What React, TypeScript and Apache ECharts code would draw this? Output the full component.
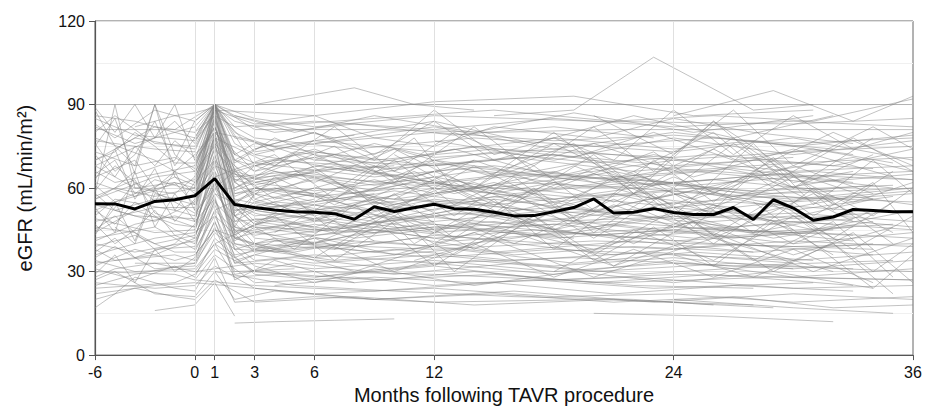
import React, { useEffect, useRef } from "react";
import * as echarts from "echarts";

// Axis positions: the pre-TAVR window is drawn compressed, position -5 is labelled "-6".
const tickPositions = [-5, 0, 1, 3, 6, 12, 24, 36];
const tickLabels = ["-6", "0", "1", "3", "6", "12", "24", "36"];
const gridPositions = [0, 1, 3, 6, 12, 24];

// Mean eGFR (thick black line)
const meanX = [-5, -4, -3, -2, -1, 0, 1, 2, 3, 4, 5, 6, 7, 8, 9, 10, 11, 12, 13, 14, 15, 16, 17, 18, 19, 20, 21, 22, 23, 24, 25, 26, 27, 28, 29, 30, 31, 32, 33, 34, 35, 36];
const meanY = [54.4, 54.3, 52.5, 55.2, 55.8, 57.2, 63.4, 54.1, 53.0, 52.1, 51.5, 51.3, 50.8, 48.8, 53.3, 51.6, 52.9, 54.2, 52.6, 52.4, 51.3, 50.0, 50.1, 51.5, 53.0, 56.1, 51.0, 51.3, 52.6, 51.2, 50.5, 50.5, 53.0, 48.7, 55.8, 52.8, 48.4, 49.6, 52.3, 51.9, 51.5, 51.5];

// Individual patient trajectories, flat [x, y, x, y, ...]
const patients: number[][] = [
  [-5, 90, -2, 90, 1, 90, 6, 90, 12, 90, 18, 90, 24, 90, 30, 90, 36, 90],
  [-5, 81, -1, 81, 1, 90, 3, 81, 9, 81, 15, 80, 21, 81, 27, 81, 36, 81],
  [-5, 88, -4, 75, -3, 68, -2, 90, -1, 72, 0, 66, 1, 90, 2, 70, 3, 74, 6, 80, 9, 72, 12, 84, 15, 70, 18, 76, 24, 73, 30, 78, 36, 70],
  [-5, 70, -3, 78, 0, 74, 1, 88, 3, 83, 6, 86, 9, 78, 12, 75, 15, 82, 20, 78, 24, 85, 28, 80, 33, 76],
  [-5, 66, -4, 62, -2, 65, 0, 68, 1, 82, 2, 65, 4, 62, 6, 68, 10, 64, 12, 70, 16, 66, 20, 62, 24, 67, 30, 64, 36, 66],
  [-5, 62, -3, 57, -1, 64, 0, 61, 1, 76, 3, 60, 6, 58, 9, 63, 12, 58, 16, 62, 22, 60, 27, 57, 34, 61],
  [-5, 58, -4, 52, -2, 48, 0, 55, 1, 70, 2, 52, 5, 54, 8, 50, 12, 56, 18, 51, 24, 53, 30, 49, 36, 52],
  [-5, 54, -3, 50, 0, 49, 1, 62, 3, 48, 6, 45, 12, 50, 15, 46, 21, 48, 28, 44, 35, 47],
  [-5, 50, -4, 56, -1, 52, 0, 50, 1, 64, 2, 42, 4, 46, 7, 49, 12, 44, 18, 47, 25, 42, 32, 45],
  [-5, 46, -3, 44, -2, 40, 0, 43, 1, 58, 3, 42, 6, 40, 9, 45, 13, 41, 19, 44, 26, 40, 34, 38],
  [-5, 42, -2, 46, 0, 38, 1, 50, 3, 37, 6, 39, 12, 35, 18, 38, 24, 36, 30, 34, 36, 37],
  [-5, 38, -4, 34, -1, 36, 0, 34, 1, 48, 2, 33, 5, 35, 10, 31, 14, 34, 20, 30, 27, 33, 33, 31],
  [-5, 34, -3, 30, 0, 31, 1, 40, 3, 30, 6, 28, 12, 32, 18, 27, 24, 29, 36, 27],
  [-5, 30, -1, 29, 0, 27, 1, 36, 3, 26, 8, 28, 12, 25, 17, 27, 23, 24, 31, 26],
  [-5, 26, -2, 24, 0, 25, 1, 32, 3, 24, 6, 22, 12, 24, 18, 21, 24, 22, 30, 19, 36, 21],
  [-5, 17, -4, 22, -3, 28, -1, 24, 0, 23, 1, 35, 2, 19, 6, 21, 12, 19, 20, 20, 28, 18],
  [-2, 16, -1, 17, 0, 18, 1, 26, 2, 14],
  [2, 11.5, 4, 12, 7, 12.5, 10, 13],
  [-5, 85, -3, 79, 0, 77, 1, 90, 3, 68, 7, 72, 11, 64, 14, 70],
  [-4, 74, -2, 82, 0, 80, 1, 86, 2, 60, 4, 66, 8, 61],
  [-5, 72, -4, 64, -3, 75, -2, 68, -1, 77, 0, 71, 1, 82, 2, 62, 3, 68, 6, 74, 9, 66, 12, 70, 15, 73, 20, 69, 26, 72, 32, 68, 36, 74],
  [-5, 78, -2, 70, 0, 62, 1, 80, 3, 66, 5, 73, 9, 69, 14, 75, 19, 71, 23, 80, 27, 70, 31, 74, 35, 69],
  [-5, 68, -3, 60, -1, 58, 0, 64, 1, 90, 2, 58, 4, 60, 7, 57, 11, 62, 17, 59, 22, 63, 29, 58, 36, 60],
  [-5, 56, -4, 60, -2, 57, 0, 60, 1, 78, 2, 56, 4, 53, 8, 57, 12, 55, 17, 58, 23, 54, 29, 57, 36, 55],
  [-5, 48, -2, 53, 0, 53, 1, 72, 2, 48, 5, 50, 9, 46, 13, 51, 18, 48, 25, 50, 32, 47],
  [-5, 44, -4, 48, -3, 52, -1, 47, 0, 46, 1, 66, 2, 45, 4, 43, 8, 46, 12, 42, 17, 45, 24, 41, 31, 44, 36, 42],
  [-5, 40, -3, 37, 0, 41, 1, 55, 3, 40, 7, 38, 11, 42, 16, 36, 22, 39, 28, 37],
  [-5, 36, -2, 42, 0, 44, 1, 50, 2, 36, 5, 40, 12, 38, 20, 41, 30, 39, 36, 40],
  [-5, 32, -3, 38, -1, 34, 0, 36, 1, 45, 3, 34, 6, 36, 12, 33, 19, 35, 27, 32, 35, 34],
  [-5, 28, -4, 31, -2, 33, 0, 30, 1, 40, 2, 28, 6, 30, 12, 29, 21, 26, 29, 28, 36, 27],
  [-5, 24, -1, 26, 0, 29, 1, 38, 3, 30, 9, 27, 15, 29, 22, 25, 28, 24],
  [-4, 60, -3, 66, -2, 90, -1, 64, 0, 58, 1, 74, 3, 57],
  [-5, 52, -3, 58, 0, 63, 1, 84, 2, 50, 3, 55, 6, 52, 12, 60, 18, 56, 24, 62, 30, 55, 36, 58],
  [0, 55, 1, 90, 2, 62, 3, 58, 6, 63, 9, 59, 12, 64, 15, 60, 20, 65, 25, 61, 30, 64, 35, 60],
  [0, 48, 1, 76, 2, 48, 3, 52, 6, 49, 9, 55, 12, 50, 18, 53, 24, 49, 30, 51, 36, 48],
  [0, 45, 1, 60, 3, 47, 6, 44, 9, 50, 12, 47, 18, 43, 24, 46, 30, 44],
  [0, 40, 1, 54, 2, 38, 4, 42, 8, 39, 12, 43, 18, 40, 24, 38, 30, 41, 36, 39],
  [0, 65, 1, 84, 2, 70, 3, 66, 6, 71, 9, 65, 12, 69, 18, 64, 24, 70, 30, 66, 36, 68],
  [0, 70, 1, 90, 2, 76, 3, 72, 6, 77, 12, 73, 18, 78, 24, 74, 28, 77, 33, 72],
  [0, 58, 1, 68, 3, 62, 5, 65, 9, 61, 14, 66, 20, 60, 26, 63, 32, 59],
  [0, 36, 1, 45, 3, 40, 6, 35, 10, 38, 16, 34, 23, 37, 30, 33],
  [0, 52, 1, 86, 2, 44, 3, 49, 7, 45, 11, 50, 16, 47, 21, 51, 27, 46, 33, 49],
  [0, 62, 1, 70, 3, 55, 6, 60, 10, 56, 15, 61, 20, 57, 25, 60, 31, 56, 36, 59],
  [3, 74, 6, 80, 9, 70, 12, 88, 15, 72, 18, 78, 21, 70, 24, 88, 27, 72, 30, 86, 33, 74, 36, 80],
  [3, 64, 7, 75, 10, 62, 14, 82, 17, 66, 20, 70, 24, 60, 27, 76, 30, 62, 33, 66],
  [6, 55, 9, 68, 13, 50, 16, 64, 19, 48, 22, 62, 25, 46, 28, 65, 31, 50, 34, 62, 36, 44],
  [4, 44, 8, 60, 11, 40, 15, 56, 18, 38, 22, 58, 26, 40, 29, 54, 33, 38, 36, 50],
  [6, 35, 10, 52, 13, 30, 17, 50, 21, 32, 25, 48, 29, 30, 33, 44, 36, 26],
  [2, 50, 5, 38, 8, 54, 12, 32, 16, 50, 20, 36, 24, 52, 28, 34, 32, 48, 35, 28],
  [3, 82, 9, 85, 15, 88, 21, 84, 26, 86, 31, 84, 36, 92],
  [1, 88, 6, 86, 12, 91, 19, 93, 25, 86, 31, 88],
  [6, 70, 12, 68, 18, 72, 24, 66, 30, 69, 36, 71],
  [3, 46, 9, 44, 15, 48, 21, 42, 27, 45, 33, 43],
  [0, 30, 3, 33, 6, 31, 12, 34, 18, 30, 24, 33, 30, 31, 36, 34],
  [0, 27, 3, 25, 9, 23, 15, 26, 21, 22, 27, 25, 33, 23],
  [-5, 22, -2, 25, 0, 26, 3, 24, 9, 20, 15, 22, 21, 19, 27, 21, 32, 17, 36, 18],
  [1, 30, 5, 25, 10, 23, 16, 21, 22, 20, 26, 18],
  [10, 56, 14, 70, 18, 60, 23, 73, 26, 58, 29, 70, 32, 54],
  [12, 40, 16, 58, 20, 42, 24, 60, 28, 44, 31, 60, 35, 40],
  [8, 62, 11, 78, 13, 60, 19, 76, 22, 58, 27, 78, 30, 64],
  [15, 50, 20, 72, 24, 50, 28, 76, 31, 54, 34, 70, 36, 58],
  [18, 30, 22, 45, 26, 34, 30, 50, 34, 30, 36, 40],
  [2, 42, 8, 30, 14, 44, 20, 28, 26, 42, 32, 30],
  [-5, 64, -3, 70, -2, 60, 0, 72, 1, 80, 3, 77, 6, 70, 9, 76, 12, 71, 18, 74, 24, 70, 30, 73, 36, 75],
  [-5, 44, -3, 62, -1, 55, 0, 51, 1, 60, 2, 66, 4, 56, 7, 62, 10, 54],
  [-5, 75, -4, 85, -3, 65, -1, 70, 0, 84, 1, 90, 2, 80, 4, 73],
  [-5, 47, -4, 40, -3, 45, -2, 52, -1, 43, 0, 40, 1, 60, 2, 46, 3, 43, 6, 47, 9, 44, 12, 48],
  [-5, 59, -4, 68, -3, 62, -2, 55, -1, 66, 0, 52, 1, 78, 2, 57, 3, 60, 6, 55, 9, 58],
  [-3, 82, -1, 86, 0, 87, 1, 89, 2, 84, 4, 80, 8, 83, 13, 79, 18, 82, 23, 78],
  [-5, 80, -4, 86, -2, 76, 0, 75, 1, 88, 3, 73, 6, 76, 12, 80, 18, 77, 24, 79, 30, 76, 36, 78],
  [-5, 37, -4, 42, -3, 35, -1, 40, 0, 47, 1, 65, 2, 38, 5, 37, 8, 41],
  [2, 60, 5, 72, 8, 58, 12, 66, 16, 55, 20, 67, 25, 56, 30, 68, 34, 58],
  [5, 58, 10, 54, 15, 62, 20, 52, 25, 59, 30, 52, 35, 57],
  [2, 52, 6, 58, 10, 48, 15, 55, 20, 46, 26, 53, 31, 45, 36, 52],
  [8, 46, 13, 52, 19, 44, 24, 50, 29, 42, 34, 48],
  [20, 86, 24, 72, 27, 88, 30, 68, 34, 82, 36, 74],
  [22, 66, 26, 80, 29, 62, 33, 78, 36, 66],
  [24, 36, 28, 28, 32, 40, 35, 22],
  [28, 55, 31, 40, 34, 24, 36, 36],
  [-5, 56, -2, 64, 0, 66, 1, 75, 2, 63, 3, 61, 7, 68, 12, 62, 17, 66, 23, 61, 29, 65, 36, 63],
  [-4, 52, -2, 56, 0, 57, 1, 66, 2, 54, 3, 50, 6, 52, 11, 56, 17, 52],
  [-5, 41, -3, 47, -1, 50, 0, 48, 1, 56, 2, 40, 4, 38, 8, 43, 12, 46, 19, 42],
  [-3, 33, 0, 33, 1, 48, 2, 30, 5, 31],
  [4, 25, 9, 28, 14, 26, 22, 28, 30, 24, 36, 25],
  [0, 77, 1, 86, 3, 78, 8, 74, 14, 78, 20, 75, 26, 78, 32, 74],
  [-5, 70, -4, 73, -3, 80, -2, 75, -1, 69, 0, 69, 1, 82, 2, 64, 5, 66, 10, 68],
  [15, 86, 19, 88, 23, 107, 28, 88, 31, 90],
  [3, 90, 8, 96, 11, 90, 14, 88],
  [24, 86, 29, 95, 33, 84, 36, 93],
  [20, 15, 26, 14, 29, 13, 32, 12],
  [24, 20, 30, 17, 35, 15],
  [-5, 86, -3, 84, -1, 80, 0, 78, 1, 90, 2, 72, 3, 76, 9, 70, 15, 74, 24, 71],
  [-5, 83, -4, 78, -2, 88, 0, 84, 1, 90, 3, 85, 6, 82, 12, 86, 20, 84, 30, 83, 36, 85],
  [-5, 77, -2, 74, 0, 73, 1, 90, 2, 66, 4, 70, 10, 67, 16, 71, 22, 66, 28, 70, 34, 67],
  [-5, 73, -3, 68, -1, 71, 0, 67, 1, 85, 2, 63, 5, 65, 11, 61, 17, 65, 24, 62, 31, 66, 36, 63],
  [-5, 65, -4, 70, -3, 58, -2, 63, 0, 59, 1, 82, 2, 59, 3, 62, 6, 59, 11, 63, 16, 58, 22, 62, 28, 59, 35, 61],
  [-5, 61, -4, 55, -2, 59, -1, 62, 0, 54, 1, 74, 2, 50, 4, 55, 9, 52, 15, 56, 21, 51, 27, 55, 33, 52],
  [-5, 57, -3, 63, -2, 51, 0, 46, 1, 68, 2, 53, 3, 47, 7, 52, 12, 48, 18, 52, 24, 47, 30, 50, 36, 46],
  [-5, 52, -4, 47, -3, 55, -1, 45, 0, 42, 1, 62, 2, 44, 4, 49, 8, 42, 14, 47, 20, 43, 26, 46, 33, 41],
  [-5, 49, -2, 44, 0, 45, 1, 70, 2, 41, 3, 46, 6, 43, 12, 47, 18, 42, 24, 45, 30, 40, 36, 44],
  [-5, 45, -4, 50, -2, 38, 0, 39, 1, 57, 2, 35, 4, 41, 9, 37, 15, 41, 21, 36, 27, 40, 34, 36],
  [-5, 39, -3, 43, -1, 37, 0, 37, 1, 52, 3, 38, 7, 34, 13, 38, 19, 33, 25, 37, 31, 34],
  [-5, 35, -4, 39, -2, 31, 0, 32, 1, 46, 2, 29, 5, 33, 10, 29, 16, 33, 22, 29, 29, 32, 36, 30],
  [-5, 31, -3, 27, -1, 32, 0, 28, 1, 42, 3, 29, 8, 26, 14, 30, 20, 26, 26, 29, 33, 25],
  [-5, 27, -4, 30, -2, 22, 0, 21, 1, 30, 2, 20, 4, 23, 9, 20, 16, 23, 23, 19, 30, 22, 36, 20],
  [-5, 20, -3, 24, -1, 21, 0, 20, 1, 27, 3, 19, 8, 21, 14, 18, 21, 20, 29, 17],
  [-5, 89, -4, 80, -3, 90, -2, 78, -1, 84, 0, 76, 1, 90, 2, 78, 4, 75, 8, 79],
  [-5, 68, -2, 78, -1, 90, 0, 70, 1, 80, 2, 72],
  [-5, 58, -4, 90, -3, 60, -1, 62, 0, 60, 1, 86, 2, 66, 3, 64],
  [-4, 46, -3, 40, -2, 58, 0, 54, 1, 88, 2, 55, 3, 52, 6, 56],
  [-5, 33, -2, 36, 0, 42, 1, 64, 2, 40, 3, 38, 6, 42, 12, 39],
  [0, 60, 1, 90, 2, 68, 3, 63, 5, 66, 9, 62, 13, 67, 19, 63, 25, 66, 31, 62, 36, 65],
  [0, 50, 1, 80, 2, 55, 3, 58, 6, 54, 10, 59, 15, 54, 21, 58, 27, 53, 32, 57],
  [0, 44, 1, 72, 2, 50, 3, 45, 7, 50, 12, 45, 18, 49, 24, 44, 30, 48, 36, 45],
  [0, 38, 1, 62, 2, 42, 4, 37, 9, 41, 15, 37, 22, 41, 28, 37, 34, 40],
  [0, 57, 1, 90, 2, 54, 3, 60, 6, 57, 12, 61, 18, 55, 24, 59, 30, 56, 36, 60],
  [0, 68, 1, 88, 2, 72, 3, 69, 6, 73, 12, 68, 18, 72, 24, 68, 30, 71],
  [0, 34, 1, 56, 2, 33, 3, 36, 6, 33, 12, 36, 18, 32, 24, 35, 30, 31],
  [0, 80, 1, 90, 2, 82, 6, 84, 12, 81, 18, 85, 24, 82, 30, 84, 36, 82],
  [3, 56, 6, 50, 9, 56, 12, 52, 15, 57, 18, 53, 21, 58, 24, 53, 27, 57, 30, 53, 33, 57, 36, 54],
  [3, 48, 6, 54, 9, 49, 12, 55, 15, 50, 18, 55, 21, 50, 24, 55, 27, 49, 30, 54],
  [3, 40, 9, 46, 15, 41, 21, 47, 27, 42, 33, 46],
  [3, 69, 9, 64, 15, 68, 21, 63, 27, 67, 33, 62],
  [6, 76, 12, 82, 18, 74, 24, 80, 30, 75, 36, 79],
  [6, 28, 12, 33, 18, 29, 24, 34, 30, 28, 36, 31],
  [9, 66, 15, 58, 21, 66, 27, 57, 33, 64],
  [12, 77, 18, 70, 24, 78, 30, 72, 36, 77],
  [4, 60, 9, 52, 14, 62, 19, 50, 24, 58, 29, 48, 34, 56],
  [7, 38, 11, 54, 16, 40, 21, 56, 26, 42, 31, 58, 35, 44],
  [10, 72, 14, 56, 19, 68, 24, 54, 29, 68, 34, 56],
  [2, 86, 7, 78, 12, 84, 17, 76, 22, 86, 27, 78, 32, 86],
  [-5, 63, -4, 74, -3, 56, -2, 67, -1, 52, 0, 62, 1, 88, 2, 51, 4, 64, 7, 54, 11, 66, 15, 52],
  [-5, 53, -4, 44, -3, 66, -2, 46, -1, 58, 0, 48, 1, 80, 2, 46, 3, 58, 6, 48, 10, 60],
  [-5, 43, -4, 55, -3, 41, -2, 60, -1, 48, 0, 56, 1, 77, 2, 43, 5, 55, 9, 41],
  [-5, 76, -4, 66, -3, 72, -2, 84, -1, 68, 0, 78, 1, 90, 2, 69, 4, 78, 8, 66],
  [-5, 29, -4, 36, -3, 26, -2, 38, -1, 30, 0, 35, 1, 52, 2, 27, 4, 34, 8, 26],
  [1, 64, 4, 72, 7, 56, 10, 70, 13, 54, 17, 68, 20, 52, 23, 70, 26, 55, 29, 71, 32, 52, 35, 66],
  [1, 52, 4, 62, 7, 44, 10, 58, 13, 42, 17, 60, 20, 44, 23, 58, 26, 43, 29, 56, 32, 42, 35, 55],
  [1, 40, 4, 50, 7, 34, 10, 48, 13, 36, 17, 50, 20, 34, 23, 46, 26, 32, 29, 48, 32, 36],
  [1, 78, 4, 68, 7, 82, 10, 66, 13, 80, 17, 68, 20, 82, 23, 66, 26, 84, 29, 70, 32, 80, 36, 68],
  [2, 70, 6, 62, 10, 74, 14, 60, 18, 76, 22, 62, 26, 74, 30, 60, 34, 72],
  [2, 58, 6, 66, 10, 52, 14, 68, 18, 54, 22, 66, 26, 50, 30, 64, 34, 50, 36, 60],
  [2, 46, 6, 40, 10, 52, 14, 38, 18, 52, 22, 40, 26, 54, 30, 40, 34, 52],
  [2, 34, 6, 42, 10, 30, 14, 40, 18, 28, 22, 38, 26, 28, 30, 38, 34, 26],
  [3, 62, 8, 68, 13, 58, 18, 66, 23, 56, 28, 64, 33, 55, 36, 62],
  [3, 52, 8, 46, 13, 54, 18, 45, 23, 53, 28, 44, 33, 51],
  [3, 72, 8, 66, 13, 74, 18, 64, 23, 72, 28, 65, 33, 71, 36, 66],
  [0, 43, 1, 58, 3, 51, 6, 46, 9, 53, 12, 44, 15, 52, 18, 45, 21, 54, 24, 46, 27, 52, 30, 45],
  [0, 64, 1, 78, 3, 56, 6, 64, 9, 55, 12, 63, 15, 54, 18, 62, 21, 55, 24, 64, 27, 56],
  [-5, 82, -3, 76, 0, 82, 1, 90, 2, 86, 5, 80, 9, 86, 14, 80, 19, 87, 25, 80, 31, 86],
  [-5, 25, -3, 29, 0, 33, 1, 44, 3, 32, 6, 26, 9, 31, 14, 25, 19, 30, 24, 26, 29, 30, 34, 24],
  [5, 44, 10, 36, 15, 46, 20, 38, 25, 48, 30, 36, 35, 46],
  [5, 66, 10, 74, 15, 64, 20, 76, 25, 64, 30, 74, 35, 64],
  [9, 50, 13, 62, 17, 48, 21, 64, 25, 50, 29, 62, 33, 48],
  [11, 34, 16, 44, 21, 32, 26, 44, 31, 30, 36, 42],
  [14, 60, 18, 80, 22, 58, 26, 84, 30, 60, 34, 78],
];

const FONT = "'Liberation Sans', Arial, sans-serif";

function toPairs(flat: number[]): number[][] {
  const out: number[][] = [];
  for (let i = 0; i < flat.length; i += 2) out.push([flat[i], flat[i + 1]]);
  return out;
}

export default function App() {
  const ref = useRef<HTMLDivElement>(null);
  useEffect(() => {
    if (!ref.current) return;
    const chart = echarts.init(ref.current, undefined, { renderer: "svg" });
    const series: any[] = [];
    series.push({
      type: "line",
      data: [],
      silent: true,
      z: 1,
      markLine: {
        silent: true,
        symbol: ["none", "none"],
        label: { show: false },
        lineStyle: { color: "#e0e0e0", width: 1, type: "solid" },
        data: gridPositions.map((v) => ({ xAxis: v })),
      },
    });
    patients.forEach((p) => {
      series.push({
        type: "line",
        data: toPairs(p),
        showSymbol: false,
        symbol: "none",
        silent: true,
        z: 2,
        lineStyle: { color: "rgba(130,130,130,0.55)", width: 0.9 },
      });
    });
    series.push({
      type: "line",
      data: meanX.map((x, i) => [x, meanY[i]]),
      symbol: "none",
      silent: true,
      z: 10,
      lineStyle: { color: "#000", width: 3 },
    });
    chart.setOption({
      animation: false,
      grid: {
        left: 95,
        right: 16,
        top: 21,
        height: 342,
        show: true,
        borderColor: "#666",
        borderWidth: 1,
        backgroundColor: "transparent",
      },
      xAxis: {
        type: "value",
        min: -5,
        max: 36,
        name: "Months following TAVR procedure",
        nameLocation: "middle",
        nameGap: 29,
        nameTextStyle: { fontFamily: FONT, fontSize: 20, color: "#111" },
        axisLine: { show: true, onZero: false, lineStyle: { color: "#555", width: 1.2 } },
        axisTick: { show: true, customValues: tickPositions, length: 5, lineStyle: { color: "#555" } },
        axisLabel: {
          customValues: tickPositions,
          formatter: (v: number) => tickLabels[tickPositions.indexOf(v)] ?? "",
          fontFamily: FONT,
          fontSize: 16,
          color: "#111",
          margin: 9,
        },
        splitLine: { show: false },
      },
      yAxis: {
        type: "value",
        min: 0,
        max: 120,
        interval: 30,
        name: "eGFR (mL/min/m²)",
        nameLocation: "middle",
        nameGap: 60,
        nameRotate: 90,
        nameTextStyle: { fontFamily: FONT, fontSize: 20, color: "#111" },
        axisLine: { show: true, onZero: false, lineStyle: { color: "#555", width: 1.2 } },
        axisTick: { show: true, length: 6, lineStyle: { color: "#555" } },
        axisLabel: { fontFamily: FONT, fontSize: 16, color: "#111", margin: 10 },
        splitLine: { show: true, lineStyle: { color: "#e0e0e0", width: 1 } },
        minorTick: { show: false, splitNumber: 2 },
        minorSplitLine: { show: true, lineStyle: { color: "#f0f0f0", width: 1 } },
      },
      series,
    });
    return () => chart.dispose();
  }, []);
  return <div ref={ref} style={{ position: "absolute", left: 0, top: 0, width: 929, height: 410 }} />;
}
